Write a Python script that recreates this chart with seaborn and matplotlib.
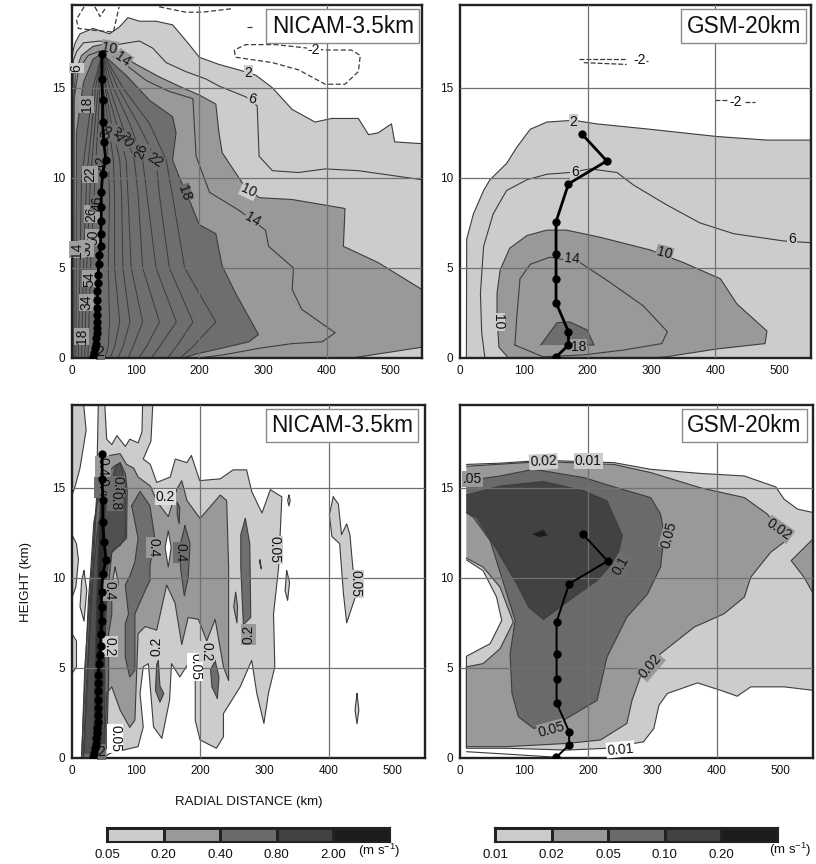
import matplotlib
matplotlib.use("Agg")
import matplotlib.pyplot as plt
from matplotlib.colors import ListedColormap
import numpy as np
import seaborn as sns

sns.set_theme(style="white")
plt.rcParams["font.family"] = ["Liberation Sans", "DejaVu Sans"]

# ---------- data: (radius km, height km) ----------
RMW_NICAM = [(47,16.9),(47,15.5),(48,14.3),(48,13.1),(50,12.0),(53,11.0),(48,10.2),(46,9.2),(46,8.4),(46,7.6),
             (45,6.9),(45,6.2),(43,5.7),(42,5.2),(41,4.6),(41,4.15),(40,3.7),(40,3.2),(40,2.8),(40,2.4),
             (40,2.0),(39,1.65),(39,1.37),(37,1.1),(37,.8),(36,.54),(35,.26),(33,.04)]
RMW_GSM = [(191,12.44),(230,10.94),(170,9.67),(150.5,7.57),(150.5,5.8),(150.5,4.37),(150.5,3.07),(170,1.46),(170,.72),(150,.04)]

# top-left: tangential wind NICAM
TL_2 = [(0,16.8),(2,17.1),(5,17.5),(12.5,18),(33,18.3),(59,18),(75,18.4),(88,18.9),(106,18.7),(132,18.7),(158,18.5),
        (182,17.5),(200,16.7),(231,16.3),(262,16),(289,15.7),(315,15),(346,13.8),(382,13.1),(408,13.3),(450,13.3),
        (466,12.4),(481,12.5),(502,13),(507,12),(550,11.9),(550,0),(0,0)]
TL_6 = [(1,10),(2,16.5),(7,17),(18,17.5),(44,17.6),(70,17.4),(106,17.6),(127,17.2),(148,16.4),(179,15.9),(210,15.5),
        (231,15.1),(273,14.5),(291,14),(294,11.2),(315,10.4),(356,10.3),(398,10.5),(450,10.4),(550,9.9)]
TL_10 = [(3,0),(3,14),(5,15.9),(15,16.8),(33,17.3),(46,17.4),(65,17.1),(101,16.3),(137.5,15.6),(174,15),(200,14.6),
         (226,14.1),(231,12.5),(236,11.4),(268,9.7),(294,8.9),(346,8.8),(429,8.3),(426.5,6.2),(481,5.3),(550,3.8),
         (550,.6),(440,0)]
TL_14 = [(3,0),(3,14.3),(10,16),(25.5,16.8),(48,17.1),(80,16.4),(117,15.4),(153,14.8),(190,14.4),(195,11.2),(216,9.2),
         (262.5,8.2),(304,7.1),(309,6.2),(348,5),(346,3.8),(361,2.7),(413.5,1.4),(393,.9),(346,.8),(294,.54),(242,.2),(200,0)]
TL_18 = [(6,0),(7,12.5),(18,15.3),(33,16.6),(47,16.9),(85,15.7),(122,14.3),(158,13.4),(163.5,12.5),(158,11),(169,10),
         (184,8.8),(200,7.4),(226,6.9),(236,5.1),(257,3.6),(293,1.3),(278,.9),(242,.6),(200,.26),(174,0)]
TL_INNER_Z = [0, .63, 2, 5, 9, 11, 13, 15, 16.9]
TL_22 = [170, 190, 226, 177, 158, 148, 122, 80, 49]
TL_26 = [150, 164, 190, 153, 137.5, 132, 104, 72, 49]
TL_30 = [125, 137.5, 164, 132, 118, 111, 91, 65, 48]
TL_34 = [105, 117, 137.5, 111, 104, 98, 78, 59, 48]
TL_38 = [88, 96, 111, 93, 88, 85, 70, 54, 48]
TL_42 = [72, 80, 91, 80, 78, 75, 62, 52, 48]
TL_46 = [60, 67, 75, 67, 67, 65, 57, 49, 48]
TL_50 = [52, 57, 59, 57, 59, 57, 52, 48, 48]
TL_LEFT_Z = [0, 5, 10, 15, 16.9]
TL_L1 = [10, 12.5, 15, 33, 47]
TL_L2 = [15, 18, 23, 37, 47]
TL_L3 = [20, 23, 29, 41, 47]
TL_L4 = [25, 29, 36, 44, 47]
TL_NEG = [[(19,19.5),(7,18.8),(10,18.3),(33,18.2),(65,18.1),(74,19.5)],
          [(36,19.5),(44,18.96),(54,19.5)],
          [(137,19.5),(179,19.2),(205,19.2),(252,19.4)],
          [(255,17.1),(257,16.7),(315,16.4),(356,16),(398,15.2),(429,15.2),(450,15.9),(453,16.8),(439,17.1),(398,17.1),(320,17.4),(273,17.4),(255,17.1)],
          [(275,18.4),(286,18.4)]]
TL_LABELS = [("10",59,17.2,-10,"#999999"),("14",80,16.6,-35,"#999999"),("2",277,15.85,0,"#cccccc"),("6",283,14.4,-15,"#cccccc"),
             ("-2",380,17.1,0,"white"),("10",278,9.3,-25,"#cccccc"),("14",284,7.7,-30,"#999999"),("18",176,9.15,-70,"#6e6e6e"),
             ("22",130,11,-35,"#6e6e6e"),("26",109,11.5,70,"#6e6e6e"),("30",85,12.1,-60,"#6e6e6e"),("34",70,12.4,-60,"#6e6e6e"),
             ("38",55,12.6,70,"#6e6e6e"),("42",46,10.8,90,"#6e6e6e"),("6",7,16.1,90,"#cccccc"),("18",23,14.1,90,"#a0a0a0"),
             ("22",28,10.2,90,"#a0a0a0"),("26",31,8,90,"#a0a0a0"),("46",41,8.6,90,"#6e6e6e"),("50",33,6.7,90,"#a0a0a0"),
             ("30",23,6.1,90,"#a0a0a0"),("14",8,6,90,"#a0a0a0"),("54",28,4.4,90,"#a0a0a0"),("34",23,3.1,90,"#a0a0a0"),
             ("18",15,1.2,90,"#a0a0a0"),("2",45,.35,0,"#6e6e6e")]

# top-right: tangential wind GSM
TR_2 = [(10,0),(10.5,6.6),(21,8),(37,9.3),(47,9.9),(73,10.8),(89,11.7),(110,12.7),(136,13.1),(178,13.2),(214,13),
        (298,12.7),(402,12.3),(481,12.1),(550,12.1),(550,0)]
TR_6 = [(39,0),(34,1.4),(32,3.6),(37,6.2),(52,8),(73,9.3),(105,9.9),(136,10.2),(172,10.3),(204,10.5),(246,10.3),(272,9.6),
        (324,8.5),(376,7.5),(429,6.9),(507,6.5),(550,6.4)]
TR_10 = [(76,0),(61,.6),(58,2.3),(58,3.6),(63,4.9),(78,6.1),(105,6.8),(136,7.1),(167,7.1),(220,6.7),(298,6),(350,5.3),
         (408,4.4),(434,3),(481,1.5),(478,.8),(402,.5),(324,.07),(300,0)]
TR_14 = [(86,.72),(89,2.3),(94,4.4),(110,5.2),(141,5.6),(188,5.3),(235,4.2),(287,2.9),(325,1.46),(316,.8),(256,.44),(193,.17),(130,.07),(86,.72)]
TR_18 = [(126.5,.72),(152,1.96),(172,2),(199,1.56),(210,.72),(167,.72)]
TR_NEG = [[(186,16.6),(261,16.6)],[(194,16.4),(261,16.3)],[(292,16.5),(295,16.5)],[(400,14.3),(418,14.3)],[(447,14.2),(463,14.2)]]
TR_LABELS = [("2",178,13.1,0,"#cccccc"),("6",180,10.3,0,"#cccccc"),("6",520,6.6,0,"#cccccc"),("10",320,5.8,-15,"#999999"),
             ("14",175,5.5,-5,"#999999"),("10",59,2,-90,"#cccccc"),("18",186,.63,0,"#999999"),("-2",281,16.55,0,"white"),("-2",432,14.2,0,"white")]

# bottom-left: radial wind NICAM
BL_LIGHT = [(15,0),(20,5.06),(31,10.6),(38,14.3),(41,19.7),(51,19.7),(54,17.7),(62,17.4),(70,17.9),(83,17.3),(90,17.7),(103,17.5),
            (109,18.1),(110,19.7),(126,19.7),(123,17.6),(111,16.6),(122,16.3),(132,15.3),(153,15.6),(161,16.6),(179,16.4),
            (186,16.8),(199,15.4),(231,15.5),(251,16),(272,16),(280,14.8),(296,13.6),(309,14.9),(327,14.5),(322,10.6),(314,8),
            (316,5.06),(306,3.58),(299,1.92),(288,3.58),(280,5.42),(262,3.95),(236,2.47),(236,1.18),(225,.54),(199.5,1),(192,2.1),
            (192,5.06),(181,5.24),(168,4.5),(155,5.24),(152,3.2),(140,1.09),(127,1.73),(119,5.24),(111,5.06),(106,3.58),(111,1.73),
            (103,.63),(80,.44),(59,.26),(49,0)]
BL_ISLANDS = [[(0,19.7),(18,19.7),(22,18.2),(12.5,16.1),(5,15.1),(0,14.6)],
              [(0,12.4),(7,11.9),(10,11),(6,9.5),(0,8.9)],
              [(18.7,10.4),(23,9.3),(18.7,7.6),(12.5,8.4),(15,9.85),(18.7,10.4)],
              [(0,6.9),(7,6.5),(7,5.06),(0,4.7)],
              [(407,14.5),(415,14.1),(420,12.4),(428,13),(433,12.4),(438,10.4),(441,8.9),(428,7.5),(423,9.1),(417,11.9),(405,12.3),(401,13.5),(407,14.5)],
              [(334.5,10.4),(339,9.76),(336,8.75),(332,9.3),(334.5,10.4)],
              [(444,3.58),(447,2.66),(444,1.9),(441,2.66),(444,3.58)],
              [(293,11),(295,10.5),(292,10.9),(293,11)],
              [(338,14.6),(340,14.3),(338,14),(336,14.3),(338,14.6)]]
BL_MID = [(18,0),(25,5.06),(33,10.6),(38,13.9),(46,16.3),(59,16.8),(75,16.9),(85,16.3),(96,16.1),(103,15.6),(122,15.1),(133,14.2),
          (150,13.4),(163,14.9),(171,15.4),(179,14.3),(199.5,13.3),(231,14.6),(241,14.3),(244,10.6),(244,4.3),(236,5.06),(223,7.7),
          (210,6.5),(197,7.7),(181,7.8),(171,6.3),(160.5,8.6),(147.5,9.6),(140,8.4),(132,7.1),(114,7.3),(103,6.9),(98,2.1),(90,1.7),
          (75,2.66),(62,3.95),(54,3.6),(50,0)]
BL_HOLE_WHITE = [(150,12.6),(154.5,11.7),(150,10.6),(145,11.7),(150,12.6)]
BL_HOLE_LIGHT = [(67,10.6),(72,9.76),(67,8.75),(62,9.5),(67,10.6)]
BL_THIN = [(255,9.2),(258,8.4),(257,7.5),(252,8.4),(255,9.2)]
BL_04 = [[(15,.07),(20,4.3),(25.5,8.75),(29,10.3),(34,13.1),(41,14.4),(49,15.6),(65.5,16.2),(75,16.4),(83,15.8),(86,14.9),(85,12.2),
          (62,11.4),(57,9.6),(62,9.3),(62,8),(57,6.9),(57,4.3),(54,.63),(49,.07)],
         [(93,14),(106,14.8),(121.5,14),(129,12.2),(121.5,10.7),(121.5,9.85),(114,9.3),(98,8),(98,4.87),(90,4.5),(83,5.6),(83,7.45),(88,8),
          (83,9.6),(90,10.1),(98,10.9),(103,12.2),(93,14)],
         [(176,12.9),(184,11.9),(181,10),(175,9),(169,10.6),(169,11.9),(176,12.9)],
         [(270,13.3),(277,11.9),(278.5,7.8),(267,7.4),(263,10.6),(263,12.4),(270,13.3)],
         [(223,5.4),(229,4.5),(226.5,3.3),(218,3.95),(216,4.9),(223,5.4)],
         [(134.5,5.4),(137,4),(143,3.58),(137,3.1),(130,3.76),(132,5.2),(134.5,5.4)],
         [(164,14.2),(168,13.9),(167,13),(164,13.5),(164,14.2)]]
BL_08 = [(18,.26),(23,4.3),(29,8.75),(33,10.3),(41,13.1),(51,14),(59,14.7),(67,16.1),(75,16.4),(83,15.3),(83,12.3),(75,11.8),(64,11.6),
         (57,10.9),(51,9.6),(54,8.75),(51,6.2),(51,2.5),(49,.07)]
BL_20 = [(33,.07),(36,4.3),(38,8),(41,11.8),(45,14.7),(49,15.4),(51,14),(50,9.6),(51,8),(49,4.3),(46,.6)]
BL_LABELS = [("0.4",48,16.2,270,"#999999"),("0.4",47,15,270,"#6e6e6e"),("0.8",71,15.1,270,"#6e6e6e"),("0.2",145,14.5,0,"#dddddd"),
             ("0.8",67,14.3,270,"#6e6e6e"),("0.4",127,11.7,270,"#999999"),("0.4",169,11.4,270,"#6e6e6e"),("0.05",316,11.55,270,"#cccccc"),
             ("0.05",442,9.67,270,"#cccccc"),("0.2",275,6.85,90,"#999999"),("0.2",59,6.2,270,"#cccccc"),("0.2",132,6.2,90,"#cccccc"),
             ("0.4",59,9.3,270,"#999999"),("0.05",192,5.06,270,"white"),("0.2",210,5.9,270,"#cccccc"),("0.05",67,1.1,270,"white"),("2",46,.35,0,"#6e6e6e")]

# bottom-right: radial wind GSM
BR_LIGHT = [(10,16.3),(62.5,16.37),(130,16.53),(240,16.4),(297,16.03),(375,15.8),(443,15.66),(492,15.05),(505,14.37),(526,13.82),(550,13.63),
            (550,3.76),(505,3.95),(453,3.95),(432,3.43),(406,3.76),(370,4.17),(323,3.58),(310,2.93),(302,1.64),(286,.9),(229,.54),(167,.44),
            (73,.54),(10,.54),(10,5.65),(47,6.35),(65,7.64),(57,8.93),(36,10.4),(10,11)]
BR_MID = [(10,16.2),(130,16.46),(240,16.3),(297,15.85),(375,15),(443,14.46),(479,13.54),(508,12.07),(484,11.42),(453,10.04),(443,8.93),(411,8),
          (365,7.27),(312.5,5.79),(281,4.5),(268,3.2),(260,1.92),(219,1),(167,.81),(73,.63),(10,.63),(10,5.06),(36,5.24),(62.5,6.07),(83,7.55),
          (62.5,9.48),(36,10.6),(10,11.1)]
BR_MID_BLOB = [(550,12.16),(516,10.96),(536,10.04),(550,9.15)]
BR_05 = [(10,15.39),(62.5,15.66),(115,16.03),(193,15.57),(245,15),(297,14.46),(312.5,13.54),(318,12.44),(312.5,10.6),(292,9.1),(260,7.82),(229,5.6),
         (213.5,3.2),(161.5,2.1),(115,1.64),(91,2.29),(81,3.58),(78,5.79),(86,7.64),(73,9.11),(47,12.07),(21,13.36),(10,13.63)]
BR_10 = [(10,14.6),(62.5,15.1),(130,15.35),(193,14.83),(229,14.28),(253,12.34),(245,11.14),(213.5,9.85),(177,8.93),(130,7.69),(107,8.38),(88.5,9.67),
         (52,11.88),(26,13.36),(10,13.63)]
BR_20 = [(112,12.44),(130,12.71),(138,12.34),(125,12.25)]
BR_STRIP = [(10,.35),(80,.2),(151,.04)]
BR_LABELS = [("0.02",130,16.45,3,"#cccccc"),("0.01",200,16.5,0,"#cccccc"),(".05",20,15.5,0,"#999999"),("0.05",326,12.4,75,"#999999"),
             ("0.02",497,12.7,-35,"#999999"),("0.1",250,10.7,60,"#6e6e6e"),("0.02",297,5.1,50,"#999999"),("0.05",143,1.6,15,"#999999"),("0.01",250,.48,5,"white")]

# colour scale
FILL_COLORS = ["#cccccc", "#999999", "#6a6a6a", "#424242", "#1c1c1c"]
CB_LEFT_TICKS = ["0.05", "0.20", "0.40", "0.80", "2.00"]
CB_RIGHT_TICKS = ["0.01", "0.02", "0.05", "0.10", "0.20"]
CB_CELLS = [[0, 1, 2, 3, 4]]
C_L, C_M, C_D, C_DD, C_K = "#cccccc", "#999999", "#6e6e6e", "#505050", "#2c2c2c"
EDGE = "#3c3c3c"

# ---------- helpers ----------
W, H = 816, 864
fig = plt.figure(figsize=(W / 100, H / 100), dpi=100)

def box(l, t, r, b):
    return fig.add_axes([l / W, 1 - b / H, (r - l) / W, (b - t) / H])

def poly(ax, pts, color, lw=0.8):
    x, y = zip(*pts)
    ax.fill(x, y, facecolor=color, edgecolor="none", zorder=1)
    ax.plot(x, y, color=EDGE, lw=lw, zorder=1.5)

def line(ax, pts, lw=0.8, ls="-"):
    x, y = zip(*pts)
    ax.plot(x, y, color=EDGE, lw=lw, ls=ls, zorder=1.5)

def rmw(ax, pts, lw):
    x, y = zip(*pts)
    sns.lineplot(x=list(x), y=list(y), sort=False, estimator=None, color="black", marker="o", markersize=5.2,
                 markeredgecolor="black", linewidth=lw, ax=ax, zorder=5)

def labels(ax, rows):
    for t, r, z, rot, bg in rows:
        ax.text(r, z, t, rotation=rot, fontsize=10, ha="center", va="center", color="#111111", rotation_mode="anchor",
                zorder=4, bbox=dict(fc=bg, ec="none", pad=0.6))

def finish(ax, title, fx, fy):
    ax.set_xlim(0, 550)
    ax.set_ylim(0, 19.6)
    ax.set_xticks([0, 100, 200, 300, 400, 500])
    ax.set_yticks([0, 5, 10, 15])
    ax.tick_params(length=0, labelsize=8.5, pad=5, colors="#111111")
    ax.set_xlabel("")
    ax.set_ylabel("")
    for g in [200, 400]:
        ax.axvline(g, color="#707070", lw=0.9, zorder=3)
    for g in [5, 10, 15]:
        ax.axhline(g, color="#707070", lw=0.9, zorder=3)
    for s in ax.spines.values():
        s.set_visible(True)
        s.set_color("#222222")
        s.set_linewidth(1.7)
    ax.text(fx, fy, title, transform=ax.transAxes, fontsize=16.3, ha="center", va="center", color="#111111", zorder=6,
            bbox=dict(boxstyle="square,pad=0.24", fc="white", ec="#8a8a8a", lw=1))

# ---------- panels ----------
ax = box(72, 5, 422, 358)
poly(ax, TL_2, C_L)
line(ax, TL_6)
poly(ax, TL_10, C_M)
line(ax, TL_14)
poly(ax, TL_18, C_D)
for rr in [TL_22, TL_26, TL_30, TL_34, TL_38, TL_42, TL_46, TL_50]:
    ax.plot(rr, TL_INNER_Z, color=EDGE, lw=0.7, zorder=1.6)
for rr in [TL_L1, TL_L2, TL_L3, TL_L4]:
    ax.plot(rr, TL_LEFT_Z, color=EDGE, lw=0.7, zorder=1.6)
for p in TL_NEG:
    line(ax, p, lw=0.9, ls=(0, (4, 2)))
rmw(ax, RMW_NICAM, 2)
labels(ax, TL_LABELS)
finish(ax, "NICAM-3.5km", 0.774, 0.9405)

ax = box(460, 5, 811, 358)
poly(ax, TR_2, C_L)
line(ax, TR_6)
poly(ax, TR_10, C_M)
line(ax, TR_14)
poly(ax, TR_18, C_D)
for p in TR_NEG:
    line(ax, p, lw=0.9, ls=(0, (4, 1.5)))
rmw(ax, RMW_GSM, 2)
labels(ax, TR_LABELS)
finish(ax, "GSM-20km", 0.808, 0.9405)

ax = box(72, 405, 425, 758)
poly(ax, BL_LIGHT, C_L)
for p in BL_ISLANDS:
    poly(ax, p, C_L)
poly(ax, BL_MID, C_M)
poly(ax, BL_HOLE_WHITE, "white")
poly(ax, BL_HOLE_LIGHT, C_L)
poly(ax, BL_THIN, C_M)
for p in BL_04:
    poly(ax, p, C_D)
poly(ax, BL_08, C_DD)
poly(ax, BL_20, C_K)
rmw(ax, RMW_NICAM, 2)
labels(ax, BL_LABELS)
finish(ax, "NICAM-3.5km", 0.765, 0.942)
ax.set_ylabel("HEIGHT (km)", fontsize=9.5, labelpad=14, color="#111111")
ax.set_xlabel("RADIAL DISTANCE (km)", fontsize=9.5, labelpad=14, color="#111111")

ax = box(460, 405, 813, 758)
poly(ax, BR_LIGHT, C_L)
poly(ax, BR_MID, C_M)
poly(ax, BR_MID_BLOB, C_M)
poly(ax, BR_05, "#6a6a6a")
poly(ax, BR_10, "#424242")
poly(ax, BR_20, "#1c1c1c")
line(ax, BR_STRIP)
rmw(ax, RMW_GSM, 1.4)
labels(ax, BR_LABELS)
finish(ax, "GSM-20km", 0.806, 0.942)

# ---------- colour bars ----------
cmap = ListedColormap(FILL_COLORS)
for (l, r, ticks, ux, uy) in [(107, 390, CB_LEFT_TICKS, 379, 851), (495, 778, CB_RIGHT_TICKS, 790, 850)]:
    cax = box(l, 828, r, 842)
    sns.heatmap(np.array(CB_CELLS), cmap=cmap, vmin=-0.5, vmax=4.5, cbar=False, ax=cax, linewidths=0.8, linecolor="#222222",
                xticklabels=False, yticklabels=False)
    cax.set_xticks(np.arange(5))
    cax.set_xticklabels(ticks, fontsize=9.5, color="#111111")
    cax.tick_params(axis="x", length=0, pad=5)
    for s in cax.spines.values():
        s.set_visible(True)
        s.set_color("#222222")
        s.set_linewidth(1.5)
    fig.text(ux / W, 1 - uy / H, "(m s$^{\\mathregular{-1}}$)", fontsize=9.5, ha="center", va="center", color="#111111")

fig.savefig("out.png", dpi=100)
